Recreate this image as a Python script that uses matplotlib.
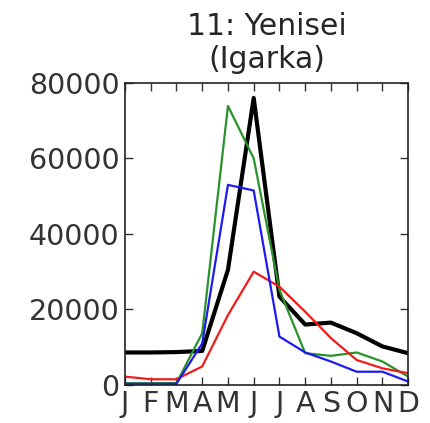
import matplotlib
matplotlib.use("Agg")
import matplotlib.pyplot as plt
import numpy as np

# Meses e vazões
meses = ['J', 'F', 'M', 'A', 'M', 'J', 'J', 'A', 'S', 'O', 'N', 'D']
obs = [8600, 8600, 8700, 9000, 30500, 76000, 23400, 16000, 16500, 13700, 10200, 8400]
verde = [450, 450, 500, 13700, 73900, 60000, 25200, 8400, 7700, 8600, 6200, 2200]
azul = [300, 300, 300, 11000, 53000, 51500, 12800, 8600, 6200, 3500, 3500, 900]
vermelho = [2200, 1500, 1500, 4900, 18500, 30000, 26000, 19400, 12400, 6600, 4400, 3100]

x = np.arange(len(meses))
cor_texto = '#262626'

fig = plt.figure(figsize=(4.31, 4.23), dpi=100)
ax = fig.add_axes([0.290, 0.090, 0.657, 0.714])

ax.plot(x, obs, color='k', lw=3)
ax.plot(x, verde, color='#2a922a', lw=1.6)
ax.plot(x, vermelho, color='#f01c1c', lw=1.6)
ax.plot(x, azul, color='#1c1cf0', lw=1.6)

ax.set_xlim(0, 11)
ax.set_ylim(0, 80000)
ax.set_xticks(x)
ax.set_xticklabels(meses, fontsize=20.5, color=cor_texto)
ax.set_yticks([0, 20000, 40000, 60000, 80000])
ax.set_yticklabels(['0', '20000', '40000', '60000', '80000'], fontsize=20.5, color=cor_texto)
ax.tick_params(direction='in', top=True, right=True, length=6, width=1, pad=4,
               colors='#333333')
for s in ax.spines.values():
    s.set_linewidth(1.2)
    s.set_color('#222222')

ax.set_title('11: Yenisei\n(Igarka)', fontsize=21.5, linespacing=1.15, pad=11,
             color=cor_texto)

fig.savefig('out.png', dpi=100)
